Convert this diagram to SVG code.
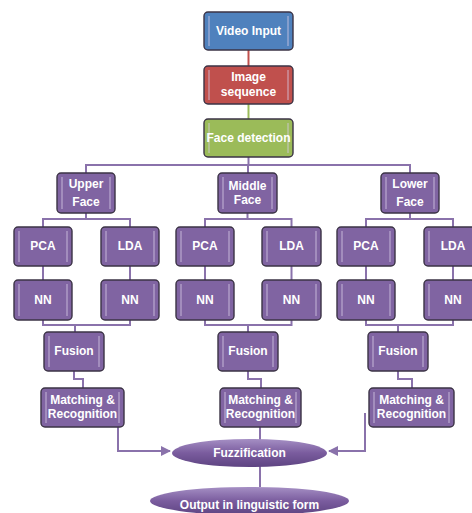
<svg xmlns="http://www.w3.org/2000/svg" width="472" height="513" viewBox="0 0 472 513">
<style>
.b{stroke:#3b3345;stroke-width:1.4}
.p{fill:#8064A2}
.s{stroke:#d6cbe6;stroke-width:1;fill:none;opacity:0.8}
.t{font-family:"Liberation Sans Narrow","Liberation Sans",Arial,sans-serif;font-weight:bold;font-size:12px;fill:#ffffff;text-anchor:middle}
.c{stroke:#8a72ab;stroke-width:2;fill:none}
</style>
<defs>
<linearGradient id="eg" x1="0" y1="0" x2="0" y2="1">
<stop offset="0" stop-color="#a58fc4"/>
<stop offset="0.5" stop-color="#7a5c9e"/>
<stop offset="1" stop-color="#5e4482"/>
</linearGradient>
<marker id="ah" viewBox="0 0 10 10" refX="9" refY="5" markerWidth="5" markerHeight="5" orient="auto">
<path d="M0,0 L10,5 L0,10 z" fill="#8a72ab"/>
</marker>
</defs>
<rect width="472" height="513" fill="#ffffff"/>
<g id="connectors">
<line x1="248.5" y1="50" x2="248.5" y2="66" stroke="#c0504d" stroke-width="2"/>
<line x1="248.5" y1="104" x2="248.5" y2="119" stroke="#9bbb59" stroke-width="2"/>
<path class="c" d="M248.5,157 V165 M86,173 V165 H410 V173 M248,165 V173"/>
<path class="c" d="M86,213 V219 M43,227 V219 H130 V227"/>
<path class="c" d="M247.5,213 V219 M205,227 V219 H291.5 V227"/>
<path class="c" d="M410,213 V219 M366,227 V219 H453 V227"/>
<path class="c" d="M43,266 V280 M130,266 V280 M205,266 V280 M291.5,266 V280 M366,266 V280 M453,266 V280"/>
<path class="c" d="M43,320 V325 H130 V320 M75,325 V332"/>
<path class="c" d="M205,320 V325 H291.5 V320 M248,325 V332"/>
<path class="c" d="M366,320 V325 H453 V320 M398,325 V332"/>
<path class="c" d="M74,371 V379 H83 V388"/>
<path class="c" d="M248,371 V379 H261 V388"/>
<path class="c" d="M398,371 V379 H412 V388"/>
<path class="c" d="M118,427 V451 H170" marker-end="url(#ah)"/>
<path class="c" d="M365,413 V451 H329" marker-end="url(#ah)"/>
<path class="c" d="M260,427 V440 M260,466 V487"/>
</g>
<g id="video-input">
<rect class="b" x="204" y="12" width="89" height="38" rx="4" fill="#4f81bd"/>
<path class="s" d="M209,16 V46 M288,16 V46"/>
<text class="t" x="248.5" y="35">Video Input</text>
</g>
<g id="image-sequence">
<rect class="b" x="204" y="66" width="89" height="38" rx="4" fill="#c0504d"/>
<path class="s" d="M209,70 V100 M288,70 V100"/>
<text class="t" x="248.5" y="81">Image</text>
<text class="t" x="248.5" y="96">sequence</text>
</g>
<g id="face-detection">
<rect class="b" x="204" y="119" width="89" height="38" rx="4" fill="#9bbb59"/>
<path class="s" d="M209,123 V153 M288,123 V153"/>
<text class="t" x="248.5" y="142">Face detection</text>
</g>
<g id="upper-face">
<rect class="b p" x="57" y="173" width="58" height="40" rx="4"/>
<path class="s" d="M62,177 V209 M110,177 V209"/>
<text class="t" x="86" y="188">Upper</text>
<text class="t" x="86" y="206">Face</text>
</g>
<g id="middle-face">
<rect class="b p" x="218" y="173" width="59" height="40" rx="4"/>
<path class="s" d="M223,177 V209 M272,177 V209"/>
<text class="t" x="247.5" y="190">Middle</text>
<text class="t" x="247.5" y="204">Face</text>
</g>
<g id="lower-face">
<rect class="b p" x="381" y="173" width="58" height="40" rx="4"/>
<path class="s" d="M386,177 V209 M434,177 V209"/>
<text class="t" x="410" y="188">Lower</text>
<text class="t" x="410" y="206">Face</text>
</g>
<g id="pca-upper">
<rect class="b p" x="14" y="227" width="58" height="39" rx="4"/>
<path class="s" d="M19,231 V262 M67,231 V262"/>
<text class="t" x="43" y="250">PCA</text>
</g>
<g id="lda-upper">
<rect class="b p" x="101" y="227" width="58" height="39" rx="4"/>
<path class="s" d="M106,231 V262 M154,231 V262"/>
<text class="t" x="130" y="250">LDA</text>
</g>
<g id="pca-middle">
<rect class="b p" x="176" y="227" width="58" height="39" rx="4"/>
<path class="s" d="M181,231 V262 M229,231 V262"/>
<text class="t" x="205" y="250">PCA</text>
</g>
<g id="lda-middle">
<rect class="b p" x="262" y="227" width="59" height="39" rx="4"/>
<path class="s" d="M267,231 V262 M316,231 V262"/>
<text class="t" x="291.5" y="250">LDA</text>
</g>
<g id="pca-lower">
<rect class="b p" x="337" y="227" width="58" height="39" rx="4"/>
<path class="s" d="M342,231 V262 M390,231 V262"/>
<text class="t" x="366" y="250">PCA</text>
</g>
<g id="lda-lower">
<rect class="b p" x="424" y="227" width="58" height="39" rx="4"/>
<path class="s" d="M429,231 V262"/>
<text class="t" x="453" y="250">LDA</text>
</g>
<g id="nn-upper-pca">
<rect class="b p" x="14" y="280" width="58" height="40" rx="4"/>
<path class="s" d="M19,284 V316 M67,284 V316"/>
<text class="t" x="43" y="304">NN</text>
</g>
<g id="nn-upper-lda">
<rect class="b p" x="101" y="280" width="58" height="40" rx="4"/>
<path class="s" d="M106,284 V316 M154,284 V316"/>
<text class="t" x="130" y="304">NN</text>
</g>
<g id="nn-middle-pca">
<rect class="b p" x="176" y="280" width="58" height="40" rx="4"/>
<path class="s" d="M181,284 V316 M229,284 V316"/>
<text class="t" x="205" y="304">NN</text>
</g>
<g id="nn-middle-lda">
<rect class="b p" x="262" y="280" width="59" height="40" rx="4"/>
<path class="s" d="M267,284 V316 M316,284 V316"/>
<text class="t" x="291.5" y="304">NN</text>
</g>
<g id="nn-lower-pca">
<rect class="b p" x="337" y="280" width="58" height="40" rx="4"/>
<path class="s" d="M342,284 V316 M390,284 V316"/>
<text class="t" x="366" y="304">NN</text>
</g>
<g id="nn-lower-lda">
<rect class="b p" x="424" y="280" width="58" height="40" rx="4"/>
<path class="s" d="M429,284 V316"/>
<text class="t" x="453" y="304">NN</text>
</g>
<g id="fusion-upper">
<rect class="b p" x="44" y="332" width="60" height="39" rx="4"/>
<path class="s" d="M49,336 V367 M99,336 V367"/>
<text class="t" x="74" y="355">Fusion</text>
</g>
<g id="fusion-middle">
<rect class="b p" x="218" y="332" width="60" height="39" rx="4"/>
<path class="s" d="M223,336 V367 M273,336 V367"/>
<text class="t" x="248" y="355">Fusion</text>
</g>
<g id="fusion-lower">
<rect class="b p" x="368" y="332" width="60" height="39" rx="4"/>
<path class="s" d="M373,336 V367 M423,336 V367"/>
<text class="t" x="398" y="355">Fusion</text>
</g>
<g id="matching-upper">
<rect class="b p" x="41" y="388" width="83" height="39" rx="4"/>
<path class="s" d="M46,392 V423 M119,392 V423"/>
<text class="t" x="82.5" y="404">Matching &amp;</text>
<text class="t" x="82.5" y="418">Recognition</text>
</g>
<g id="matching-middle">
<rect class="b p" x="220" y="388" width="81" height="39" rx="4"/>
<path class="s" d="M225,392 V423 M296,392 V423"/>
<text class="t" x="260.5" y="404">Matching &amp;</text>
<text class="t" x="260.5" y="418">Recognition</text>
</g>
<g id="matching-lower">
<rect class="b p" x="369" y="388" width="85" height="39" rx="4"/>
<path class="s" d="M374,392 V423 M449,392 V423"/>
<text class="t" x="411.5" y="404">Matching &amp;</text>
<text class="t" x="411.5" y="418">Recognition</text>
</g>
<g id="fuzzification">
<ellipse cx="249.5" cy="453" rx="77.5" ry="14" fill="url(#eg)"/>
<text class="t" x="249.5" y="457">Fuzzification</text>
</g>
<g id="output">
<ellipse cx="249.5" cy="501" rx="99.5" ry="14" fill="url(#eg)"/>
<text class="t" x="249.5" y="509">Output in linguistic form</text>
</g>
</svg>
